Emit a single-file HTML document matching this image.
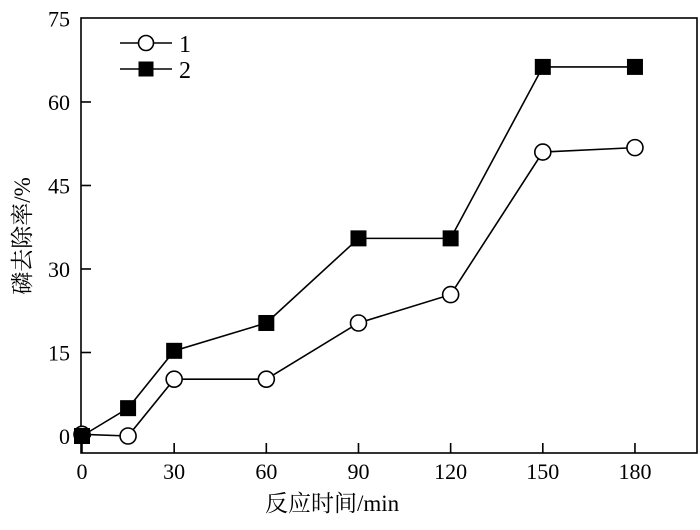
<!DOCTYPE html>
<html><head><meta charset="utf-8"><style>
body{margin:0;background:#fff}
svg text{font-family:"Liberation Serif","Noto Serif CJK SC",serif;fill:#000}
</style></head><body>
<svg width="700" height="525" id="c">
<rect x="81" y="18" width="616" height="435" fill="none" stroke="#000" stroke-width="1.6"/>
<g id="ticks"></g>
<g id="series"></g>
<text x="265" y="511" font-size="23">反应时间/min</text>
<text transform="translate(30,236) rotate(-90)" font-size="23" text-anchor="middle">磷去除率/%</text>
<g>
<g>
<line x1="120" y1="43" x2="172" y2="43" stroke="#000" stroke-width="1.6"/>
<circle cx="146" cy="43" r="7.5" fill="#fff" stroke="#000" stroke-width="1.6"/>
<text x="179" y="52" font-size="24">1</text></g>
<g>
<line x1="120" y1="69" x2="172" y2="69" stroke="#000" stroke-width="1.6"/>
<rect x="138.5" y="61.5" width="15" height="15" fill="#000"/>
<text x="179" y="78" font-size="24">2</text></g>
</g>
</svg>
<script>
const times=[0,15,30,60,90,120,150,180];
const series1=[0.3,0,10.2,10.2,20.3,25.4,51,51.8];
const series2=[0,5,15.3,20.3,35.5,35.5,66.3,66.3];
const xTicks=[0,30,60,90,120,150,180];
const yTicks=[0,15,30,45,60,75];
const NS="http://www.w3.org/2000/svg";
function sx(v){return 82+v*3.072;}
function sy(v){return 436-v*5.567;}
function mk(tag,attrs,parent){const e=document.createElementNS(NS,tag);for(const k in attrs)e.setAttribute(k,attrs[k]);parent.appendChild(e);return e;}
const tg=document.getElementById('ticks');
xTicks.forEach(t=>{
 const l=mk('line',{x1:sx(t),x2:sx(t),y1:453,y2:443,stroke:'#000','stroke-width':1.6},tg);
 
 
 const tx=mk('text',{x:sx(t),y:479,'font-size':22,'text-anchor':'middle'},tg);
 tx.textContent=t;
 
 
});
yTicks.forEach(t=>{
 if(t<75){const l=mk('line',{x1:81,x2:91,y1:sy(t),y2:sy(t),stroke:'#000','stroke-width':1.6},tg);
 
 }
 const tx=mk('text',{x:70,y:sy(t)+8,'font-size':22,'text-anchor':'end'},tg);
 tx.textContent=t;
 
 
});
const sg=document.getElementById('series');
function draw(vals,type,name){
 const g=mk('g',{},sg);
 
 
 const pl=mk('polyline',{points:times.map((t,i)=>sx(t)+','+sy(vals[i])).join(' '),fill:'none',stroke:'#000','stroke-width':1.6},g);
 
 
 times.forEach((t,i)=>{
  let m;
  if(type==='c') m=mk('circle',{cx:sx(t),cy:sy(vals[i]),r:8,fill:'#fff',stroke:'#000','stroke-width':1.6},g);
  else m=mk('rect',{x:sx(t)-8,y:sy(vals[i])-8,width:16,height:16,fill:'#000'},g);
  
  
 });
}
draw(series1,'c','series-1');
draw(series2,'s','series-2');
</script>
</body></html>
